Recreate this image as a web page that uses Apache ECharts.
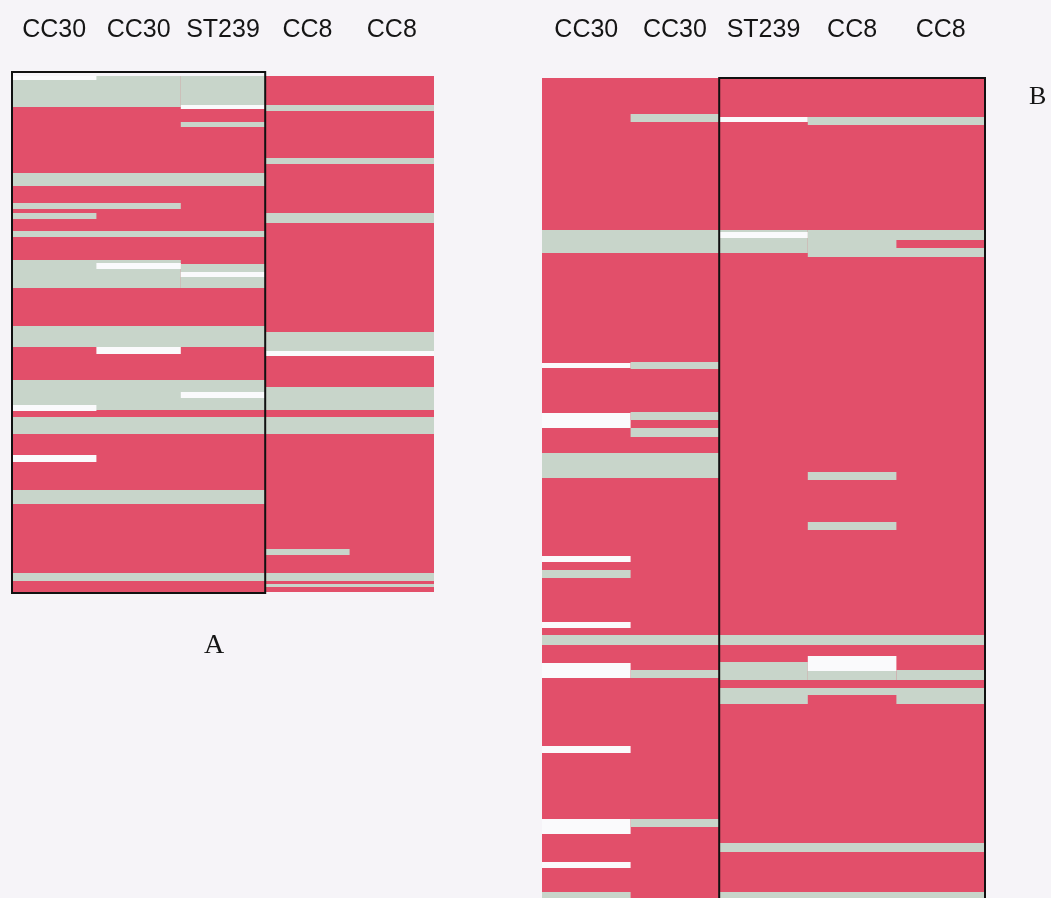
<!DOCTYPE html>
<html>
<head>
<meta charset="utf-8">
<script src="https://cdn.jsdelivr.net/npm/echarts@6/dist/echarts.min.js"></script>
<style>
html,body{margin:0;padding:0;background:#f6f4f8;}
#chart{width:1051px;height:898px;}
</style>
</head>
<body>
<div id="chart"></div>
<script>
// Column labels (isolates)
const columnsA = ['CC30', 'CC30', 'ST239', 'CC8', 'CC8'];
const columnsB = ['CC30', 'CC30', 'ST239', 'CC8', 'CC8'];

// State codes: 0 = present (red), 1 = absent (grey), 2 = divergent (white)
const stateColors = ['#e24f6a', '#c8d5ca', '#fafafc'];

// Panel A rows: [colStart, colEnd, rowStart, rowEnd, state]
const rowsA_total = 516;
const segmentsA = [
  [0, 5, 0, 516, 0],
  [0, 2, 0, 31, 1], [2, 3, 0, 29, 1], [0, 1, 0, 4, 2],
  [2, 3, 29, 33, 2], [3, 5, 29, 35, 1],
  [2, 3, 46, 51, 1],
  [3, 5, 82, 88, 1],
  [0, 3, 97, 110, 1],
  [0, 2, 127, 133, 1],
  [0, 1, 137, 143, 1],
  [3, 5, 137, 147, 1],
  [0, 3, 155, 161, 1],
  [0, 2, 184, 212, 1], [2, 3, 188, 212, 1], [1, 2, 187, 193, 2], [2, 3, 196, 201, 2],
  [0, 3, 250, 271, 1], [1, 2, 271, 278, 2], [3, 5, 256, 275, 1], [3, 5, 275, 280, 2],
  [0, 3, 304, 334, 1], [3, 5, 311, 334, 1], [2, 3, 316, 322, 2], [0, 1, 329, 335, 2],
  [0, 5, 341, 358, 1],
  [0, 1, 379, 386, 2],
  [0, 3, 414, 428, 1],
  [3, 4, 473, 479, 1],
  [0, 5, 497, 505, 1],
  [3, 5, 508, 511, 1]
];

// Panel B rows: [colStart, colEnd, rowStart, rowEnd, state]
const rowsB_total = 820;
const segmentsB = [
  [0, 5, 0, 820, 0],
  [1, 2, 36, 44, 1], [2, 3, 39, 44, 2], [3, 5, 39, 47, 1],
  [0, 3, 152, 175, 1], [2, 3, 154, 160, 2], [3, 5, 152, 179, 1], [4, 5, 162, 170, 0],
  [0, 1, 285, 290, 2], [1, 2, 284, 291, 1],
  [0, 1, 335, 350, 2], [1, 2, 334, 342, 1], [1, 2, 350, 359, 1],
  [0, 2, 375, 400, 1],
  [3, 4, 394, 402, 1],
  [3, 4, 444, 452, 1],
  [0, 1, 478, 484, 2],
  [0, 1, 492, 500, 1],
  [0, 1, 544, 550, 2],
  [0, 5, 557, 567, 1],
  [0, 1, 585, 600, 2], [1, 2, 592, 600, 1],
  [2, 3, 584, 602, 1], [4, 5, 592, 602, 1], [3, 4, 578, 593, 2], [3, 4, 593, 602, 1],
  [2, 5, 610, 617, 1], [2, 3, 617, 626, 1], [4, 5, 617, 626, 1],
  [0, 1, 668, 675, 2],
  [0, 1, 741, 756, 2], [1, 2, 741, 749, 1],
  [2, 5, 765, 774, 1],
  [0, 1, 784, 790, 2],
  [0, 1, 814, 820, 1], [2, 5, 814, 820, 1]
];

// Highlight boxes: [colStart, colEnd, rowStart, rowEnd]
const boxA = [0, 3, -4, 517];
const boxB = [2, 5, 0, 826];

function renderSeg(params, api) {
  const p0 = api.coord([api.value(0), api.value(2)]);
  const p1 = api.coord([api.value(1), api.value(3)]);
  return {
    type: 'rect',
    shape: { x: p0[0], y: p0[1], width: p1[0] - p0[0], height: p1[1] - p0[1] },
    style: { fill: stateColors[api.value(4)] }
  };
}
function renderBox(params, api) {
  const p0 = api.coord([api.value(0), api.value(2)]);
  const p1 = api.coord([api.value(1), api.value(3)]);
  return {
    type: 'rect',
    shape: { x: p0[0], y: p0[1], width: p1[0] - p0[0], height: p1[1] - p0[1] },
    style: { fill: 'none', stroke: '#111', lineWidth: 2 }
  };
}

const labelStyle = { fontFamily: 'Liberation Sans, Arial, sans-serif', fontSize: 25, color: '#151515' };

const chart = echarts.init(document.getElementById('chart'), null, { renderer: 'canvas' });
chart.setOption({
  backgroundColor: '#f6f4f8',
  animation: false,
  title: [
    { text: 'A', left: 199, top: 627, textStyle: { fontFamily: 'Liberation Serif, serif', fontSize: 28, fontWeight: 'normal', color: '#151515' } },
    { text: 'B', left: 1024, top: 79, textStyle: { fontFamily: 'Liberation Serif, serif', fontSize: 26, fontWeight: 'normal', color: '#151515' } }
  ],
  grid: [
    { left: 12, top: 76, width: 422, height: 516, outerBoundsMode: 'none' },
    { left: 542, top: 78, width: 443, height: 820, outerBoundsMode: 'none' }
  ],
  xAxis: [
    { type: 'value', gridIndex: 0, min: 0, max: 5, show: false },
    { type: 'category', gridIndex: 0, position: 'top', data: columnsA,
      axisLine: { show: false }, axisTick: { show: false }, splitLine: { show: false },
      axisLabel: Object.assign({ margin: 33, interval: 0 }, labelStyle) },
    { type: 'value', gridIndex: 1, min: 0, max: 5, show: false },
    { type: 'category', gridIndex: 1, position: 'top', data: columnsB,
      axisLine: { show: false }, axisTick: { show: false }, splitLine: { show: false },
      axisLabel: Object.assign({ margin: 35, interval: 0 }, labelStyle) }
  ],
  yAxis: [
    { type: 'value', gridIndex: 0, min: 0, max: rowsA_total, inverse: true, show: false },
    { type: 'value', gridIndex: 1, min: 0, max: rowsB_total, inverse: true, show: false }
  ],
  series: [
    { type: 'custom', xAxisIndex: 0, yAxisIndex: 0, data: segmentsA, renderItem: renderSeg,
      encode: { x: [0, 1], y: [2, 3] }, clip: true, silent: true },
    { type: 'custom', xAxisIndex: 0, yAxisIndex: 0, data: [boxA], renderItem: renderBox,
      encode: { x: [0, 1], y: [2, 3] }, clip: false, silent: true, z: 5 },
    { type: 'custom', xAxisIndex: 2, yAxisIndex: 1, data: segmentsB, renderItem: renderSeg,
      encode: { x: [0, 1], y: [2, 3] }, clip: true, silent: true },
    { type: 'custom', xAxisIndex: 2, yAxisIndex: 1, data: [boxB], renderItem: renderBox,
      encode: { x: [0, 1], y: [2, 3] }, clip: false, silent: true, z: 5 }
  ]
});
</script>
</body>
</html>
